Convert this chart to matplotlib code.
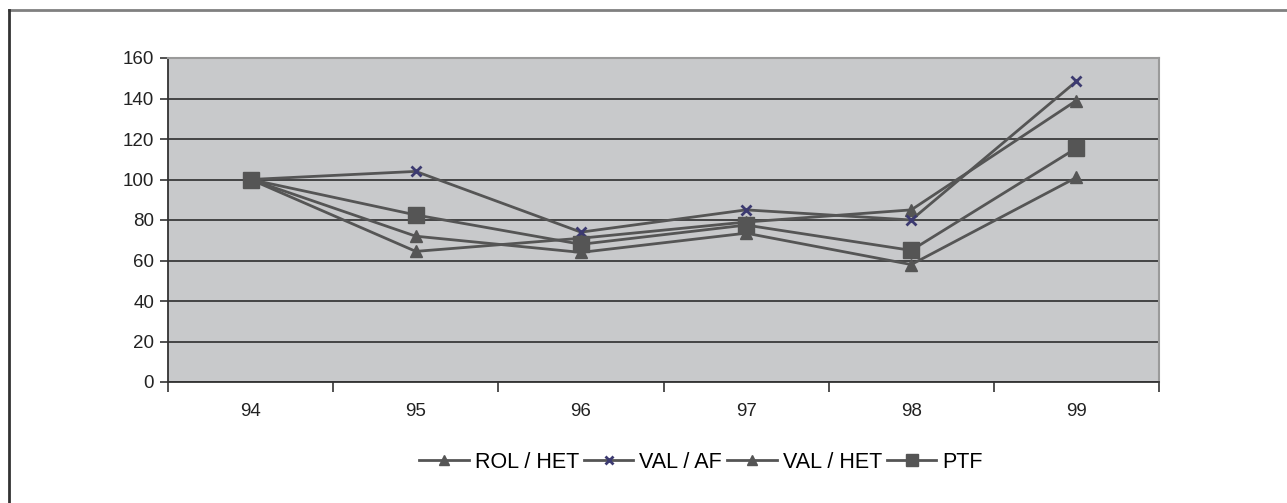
import matplotlib
matplotlib.use("Agg")
import matplotlib.pyplot as plt
from matplotlib.lines import Line2D

categories = ["94", "95", "96", "97", "98", "99"]
rol_het = [100, 64.5, 71, 79, 85, 139]
val_af = [100, 104, 74, 85, 80, 148.5]
val_het = [100, 72, 64, 73.5, 58, 101]
ptf = [100, 82.5, 68, 77.5, 65, 115.5]
yticks = [0, 20, 40, 60, 80, 100, 120, 140, 160]

plt.rcParams['font.family'] = ['Liberation Sans', 'DejaVu Sans']

fig = plt.figure(figsize=(12.87, 5.03), dpi=100)
ax = fig.add_axes([168/1287, 1-382/503, (1159-168)/1287, (382-58)/503])
ax.set_facecolor('#c8c9cb')

line_col = '#555555'
x = list(range(len(categories)))
ax.plot(x, rol_het, color=line_col, lw=2, marker='^', ms=9, mfc=line_col, mec=line_col, label='ROL / HET', zorder=3)
ax.plot(x, val_af, color=line_col, lw=2, marker='x', ms=7, mew=2, mec='#3c3a70', label='VAL / AF', zorder=3)
ax.plot(x, val_het, color=line_col, lw=2, marker='^', ms=9, mfc=line_col, mec=line_col, label='VAL / HET', zorder=3)
ax.plot(x, ptf, color=line_col, lw=2, marker='s', ms=12, mfc=line_col, mec=line_col, label='PTF', zorder=4)

ax.set_xlim(-0.5, len(categories) - 0.5)
ax.set_ylim(0, 160)
ax.set_yticks(yticks)
ax.set_yticklabels([str(v) for v in yticks])
ax.yaxis.grid(True, color='#3a3a3a', lw=1.3)
ax.set_axisbelow(True)

ax.set_xticks(x)
ax.set_xticklabels(categories)
ax.set_xticks([i - 0.5 for i in range(len(categories) + 1)], minor=True)
ax.tick_params(axis='x', which='major', length=0, pad=15, labelsize=13.5, colors='#222222')
ax.tick_params(axis='x', which='minor', length=7, width=1.2, color='#333333', direction='out')
ax.tick_params(axis='y', which='major', length=6, width=1.2, color='#333333', pad=4, labelsize=13.5, labelcolor='#222222')

for s in ['top', 'right']:
    ax.spines[s].set_color('#9a9a9a')
    ax.spines[s].set_linewidth(1.5)
for s in ['left', 'bottom']:
    ax.spines[s].set_color('#333333')
    ax.spines[s].set_linewidth(1.3)

handles, labels = ax.get_legend_handles_labels()
leg = fig.legend(handles, labels, loc='center', bbox_to_anchor=(701/1287, 1-462/503), ncol=4,
                 frameon=False, fontsize=15.5, handlelength=2.3, handletextpad=0.28,
                 columnspacing=0.23, markerscale=0.75, borderpad=0, borderaxespad=0)

# outer frame (top and left edges)
fig.add_artist(Line2D([9/1287, 1], [1-10/503, 1-10/503], transform=fig.transFigure, color='#808080', lw=2))
fig.add_artist(Line2D([9/1287, 9/1287], [0, 1-10/503], transform=fig.transFigure, color='#333333', lw=2))

fig.savefig('out.png', dpi=100)
